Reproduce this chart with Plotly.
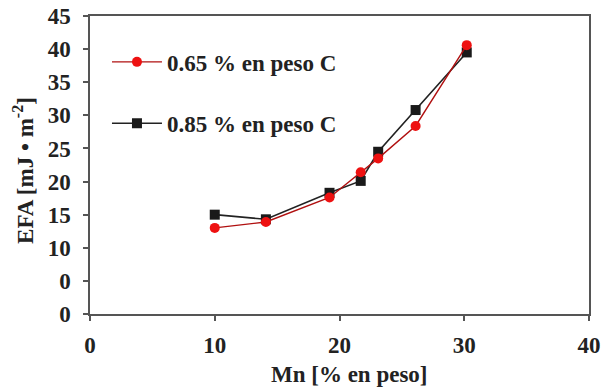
import plotly.graph_objects as go

mn_pct = [10, 14.1, 19.2, 21.7, 23.1, 26.1, 30.2]
efa_065 = [13.0, 13.9, 17.6, 21.4, 23.5, 28.4, 40.6]
efa_085 = [15.0, 14.3, 18.3, 20.1, 24.5, 30.8, 39.5]
series_names = ["0.65 % en peso C", "0.85 % en peso C"]
y_tickvals = [0, 5, 10, 15, 20, 25, 30, 35, 40, 45]
y_ticktext = ["0", "0", "10", "15", "20", "25", "30", "35", "40", "45"]
x_tickvals = [0, 10, 20, 30, 40]
x_ticktext = ["0", "10", "20", "30", "40"]
x_title = "Mn [% en peso]"
y_title = "EFA [mJ • m<sup>-2</sup>]"

FONT = "Liberation Serif"
TXT = "#222222"

def bfont(size):
    return dict(family=FONT, size=size, color=TXT, weight="bold")

fig = go.Figure()
fig.add_trace(go.Scatter(
    x=mn_pct, y=efa_085, name=series_names[1], mode="lines+markers",
    line=dict(color="#222222", width=1.6),
    marker=dict(symbol="square", size=10, color="#1a1a1a"),
    legend="legend2",
))
fig.add_trace(go.Scatter(
    x=mn_pct, y=efa_065, name=series_names[0], mode="lines+markers",
    line=dict(color="#b01010", width=1.4),
    marker=dict(symbol="circle", size=10, color="#ee1111"),
    legend="legend",
))

axis_common = dict(
    showline=True, linecolor="#555555", linewidth=1.5, mirror=True,
    ticks="outside", ticklen=5, tickcolor="#555555", tickwidth=1.5,
    showgrid=False, zeroline=False, automargin=False,
    tickfont=bfont(23),
)

fig.update_layout(
    width=608, height=389,
    margin=dict(l=90, r=19, t=16, b=75),
    paper_bgcolor="white", plot_bgcolor="white",
    font=dict(family=FONT, size=20, color=TXT),
    showlegend=True,
    xaxis=dict(range=[0, 40], tickvals=x_tickvals, ticktext=x_ticktext,
               ticklabelstandoff=5, **axis_common),
    yaxis=dict(range=[0, 45], tickvals=y_tickvals, ticktext=y_ticktext,
               ticklabelstandoff=8, **axis_common),
    legend=dict(x=0.034, y=0.846, xanchor="left", yanchor="middle",
                bgcolor="rgba(0,0,0,0)", font=bfont(23), itemwidth=50),
    legend2=dict(x=0.034, y=0.64, xanchor="left", yanchor="middle",
                 bgcolor="rgba(0,0,0,0)", font=bfont(23), itemwidth=50),
    annotations=[
        dict(text=x_title, xref="paper", yref="paper", x=0.521, y=0,
             xanchor="center", yanchor="middle", yshift=-60,
             showarrow=False, font=bfont(23)),
        dict(text=y_title, xref="paper", yref="paper", x=0, y=0.48,
             xanchor="center", yanchor="middle", xshift=-66, textangle=-90,
             showarrow=False, font=bfont(23)),
    ],
)

fig.write_html("out.html", config={"displayModeBar": False},
               post_script="document.body.style.margin='0';")
